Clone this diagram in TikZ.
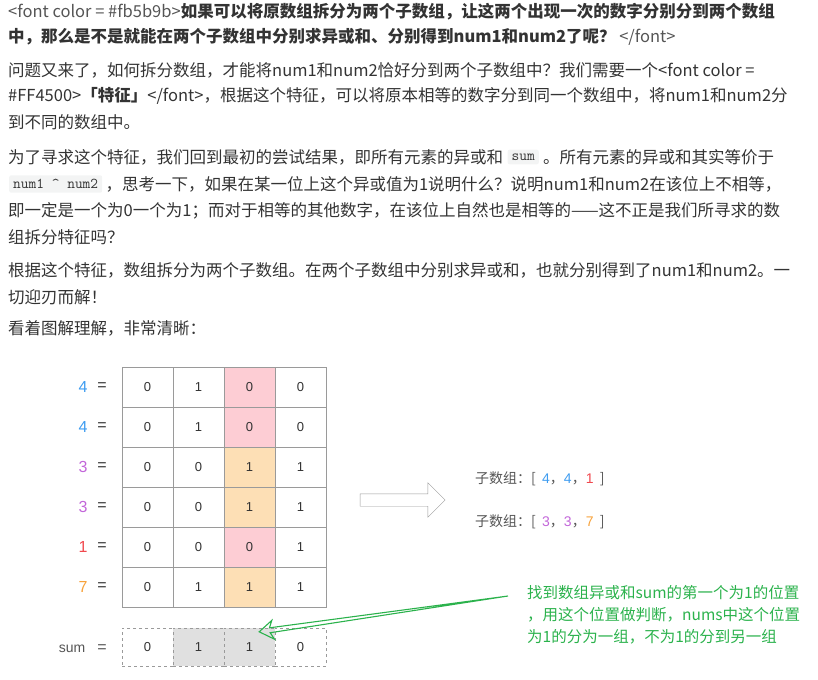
\documentclass[tikz,border=0pt]{standalone}
\usepackage{fontspec}
\setmainfont{Noto Sans CJK SC}
\newfontfamily\cellfont{Liberation Sans}
\usetikzlibrary{positioning,calc,shapes.arrows}
\definecolor{txtgray}{HTML}{333333}
\definecolor{taggray}{HTML}{555555}
\definecolor{gridgray}{HTML}{9A9A9A}
\definecolor{numblue}{HTML}{3E9CF0}
\definecolor{numpurple}{HTML}{C266D9}
\definecolor{numred}{HTML}{F0484E}
\definecolor{numorange}{HTML}{F7A23B}
\definecolor{cellpink}{HTML}{FDCDD4}
\definecolor{cellorange}{HTML}{FDDFB5}
\definecolor{cellgray}{HTML}{E0E0E0}
\definecolor{notegreen}{HTML}{2BB24C}
\definecolor{codebg}{HTML}{F3F4F4}
\newcommand{\tagfont}{\color{taggray}}
\begin{document}
\begin{tikzpicture}[x=1pt,y=-1pt]
	\tikzstyle{line} = [anchor=west,inner sep=0,text=txtgray,font=\fontsize{16.5}{20}\selectfont]
	\tikzstyle{codebox} = [fill=codebg,rounded corners=2pt,inner xsep=4pt,inner ysep=4pt,text=txtgray,font=\ttfamily\fontsize{15}{17}\selectfont]
	\tikzstyle{cell} = [rectangle,draw=gridgray,fill=white,minimum width=51,minimum height=40,inner sep=0,text=txtgray,font=\cellfont\fontsize{13}{15}\selectfont]
	\tikzstyle{sumcell} = [cell,dashed,minimum height=38]
	\tikzstyle{numlabel} = [inner sep=0,font=\cellfont\fontsize{16}{18}\selectfont]
	\tikzstyle{sublist} = [anchor=west,inner sep=0,text=taggray,font=\fontsize{14}{16}\selectfont]
	\useasboundingbox (0,0) rectangle (818,679);
	% text above the picture
	\node[line](l1)at(8,12){{\tagfont <font color = \#fb5b9b>}\textbf{如果可以将原数组拆分为两个子数组，让这两个出现一次的数字分别分到两个数组}};
	\node[line](l2)at(8,37){\textbf{中，那么是不是就能在两个子数组中分别求异或和、分别得到num1和num2了呢？} {\tagfont </font>}};
	\node[line](l3)at(8,70){问题又来了，如何拆分数组，才能将num1和num2恰好分到两个子数组中？我们需要一个<font color =};
	\node[line](l4)at(8,96){\#FF4500>\textbf{「特征」}</font>，根据这个特征，可以将原本相等的数字分到同一个数组中，将num1和num2分};
	\node[line](l5)at(8,122){到不同的数组中。};
	\node[line](l6a)at(8,157){为了寻求这个特征，我们回到最初的尝试结果，即所有元素的异或和};
	\node[codebox,right=4pt of l6a](sumcode){sum};
	\node[line,right=4pt of sumcode](l6b){。所有元素的异或和其实等价于};
	\node[codebox,anchor=west](xorcode)at(9,184){num1 \textasciicircum{} num2};
	\node[line,right=3pt of xorcode](l7){，思考一下，如果在某一位上这个异或值为1说明什么？说明num1和num2在该位上不相等，};
	\node[line](l8)at(8,211){即一定是一个为0一个为1；而对于相等的其他数字，在该位上自然也是相等的——这不正是我们所寻求的数};
	\node[line](l9)at(8,237){组拆分特征吗？};
	\node[line](l10)at(8,270){根据这个特征，数组拆分为两个子数组。在两个子数组中分别求异或和，也就分别得到了num1和num2。一};
	\node[line](l11)at(8,297){切迎刃而解！};
	\node[line](l12)at(8,328){看着图解理解，非常清晰：};
	% bit table
	\foreach \num/\col/\bits/\mark/\mid [count=\i from 0] in {4/numblue/{0,1,0,0}/cellpink/0,4/numblue/{0,1,0,0}/cellpink/0,3/numpurple/{0,0,1,1}/cellorange/1,3/numpurple/{0,0,1,1}/cellorange/1,1/numred/{0,0,0,1}/cellpink/0,7/numorange/{0,1,1,1}/cellorange/1}{
		\node[numlabel,text=\col](n\i)at(83,387+40*\i){\num};
		\node[numlabel,text=txtgray](e\i)at(102,387+40*\i){=};
		\foreach \b [count=\j from 0] in \bits
			\node[cell](c\i\j)at(147.5+51*\j,387+40*\i){\b};
		\node[cell,fill=\mark]at(c\i2){\mid};
	}
	% xor sum row
	\node[numlabel,text=taggray,font=\cellfont\fontsize{14}{16}\selectfont](sumlbl)at(72,649){sum};
	\node[numlabel,text=taggray](sumeq)at(102,649){=};
	\node[sumcell](s0)at(147.5,647){0};
	\node[sumcell,fill=cellgray](s1)at(198.5,647){1};
	\node[sumcell,fill=cellgray](s2)at(249.5,647){1};
	\node[sumcell](s3)at(300.5,647){0};
	% split into two groups
	\node[single arrow,draw=gridgray,fill=white,minimum height=85,inner xsep=0,inner ysep=6,single arrow head extend=11](split)at(399.5,500){};
	\node[sublist](g1)at(475,479){子数组：[\ \ {\cellfont\color{numblue}4}，{\cellfont\color{numblue}4}，{\cellfont\color{numred}1}\ \ ]};
	\node[sublist](g2)at(475,522){子数组：[\ \ {\cellfont\color{numpurple}3}，{\cellfont\color{numpurple}3}，{\cellfont\color{numorange}7}\ \ ]};
	% note
	\node[anchor=west,align=left,inner sep=0,text=notegreen,font=\fontsize{15.5}{22}\selectfont](note)at(527,615){找到数组异或和sum的第一个为1的位置\\，用这个位置做判断，nums中这个位置\\为1的分为一组，不为1的分到另一组};
	\coordinate(tail)at($(note.west)+(-19,-19)$);
	\coordinate(tip)at($(s2.north east)+(-16,4)$);
	\draw[notegreen,line width=1.1pt,line join=miter](tail)--($(tip)!11pt!13:(tail)$)--($(tip)!17pt!34:(tail)$)--(tip)--($(tip)!17pt!-34:(tail)$)--($(tip)!11pt!-13:(tail)$)--cycle;
\end{tikzpicture}
\end{document}
